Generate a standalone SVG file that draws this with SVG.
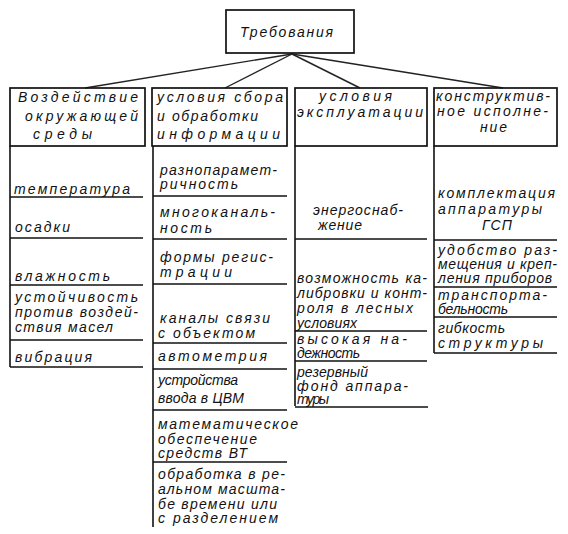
<svg xmlns="http://www.w3.org/2000/svg" width="568" height="534" viewBox="0 0 568 534">
<style>
.bg{fill:#fff}
.box{fill:none;stroke:#111;stroke-width:1.7}
.ln{stroke:#111;stroke-width:1.6;fill:none}
.cn{stroke:#222;stroke-width:1.4;fill:none}
text{font-family:"Liberation Sans","DejaVu Sans",sans-serif;font-style:italic;font-size:14px;fill:#111}
</style>
<rect class="bg" x="0" y="0" width="568" height="534"/>
<g id="connectors">
<line class="cn" x1="292" y1="54" x2="85" y2="88"/>
<line class="cn" x1="292" y1="54" x2="225" y2="88"/>
<line class="cn" x1="292" y1="54" x2="360" y2="88"/>
<line class="cn" x1="292" y1="54" x2="503" y2="88"/>
</g>
<g id="root">
<rect class="box" x="226" y="10" width="128" height="43"/>
<text x="240" y="37" textLength="93" lengthAdjust="spacing">Требования</text>
</g>
<g id="col1">
<rect class="box" x="10" y="88" width="135" height="58"/>
<text x="18" y="102" textLength="120" lengthAdjust="spacing">Воздействие</text>
<text x="25" y="121" textLength="113" lengthAdjust="spacing">окружающей</text>
<text x="33" y="139" textLength="59" lengthAdjust="spacing">среды</text>
<line class="ln" x1="10" y1="146" x2="10" y2="367"/>
</g>
<g id="c1-temp"><text x="14" y="194" textLength="116" lengthAdjust="spacing">температура</text><line class="ln" x1="10" y1="197" x2="143" y2="197"/></g>
<g id="c1-osadki"><text x="15" y="232" textLength="55" lengthAdjust="spacing">осадки</text><line class="ln" x1="10" y1="238" x2="143" y2="238"/></g>
<g id="c1-vlazh"><text x="15" y="281" textLength="95" lengthAdjust="spacing">влажность</text><line class="ln" x1="10" y1="285" x2="143" y2="285"/></g>
<g id="c1-ustoich">
<text x="15" y="302" textLength="123" lengthAdjust="spacing">устойчивость</text>
<text x="15" y="317" textLength="123" lengthAdjust="spacing">против воздей-</text>
<text x="15" y="332" textLength="98" lengthAdjust="spacing">ствия масел</text>
<line class="ln" x1="10" y1="340" x2="143" y2="340"/></g>
<g id="c1-vibr"><text x="15" y="362" textLength="77" lengthAdjust="spacing">вибрация</text><line class="ln" x1="10" y1="367" x2="143" y2="367"/></g>

<g id="col2">
<rect class="box" x="152" y="88" width="135" height="58"/>
<text x="157" y="102" textLength="126" lengthAdjust="spacing">условия сбора</text>
<text x="157" y="121" textLength="101" lengthAdjust="spacing">и обработки</text>
<text x="157" y="139" textLength="123" lengthAdjust="spacing">информации</text>
<line class="ln" x1="153" y1="146" x2="153" y2="527"/>
</g>
<g id="c2-razno"><text x="160" y="175" textLength="117" lengthAdjust="spacing">разнопарамет-</text><text x="160" y="189" textLength="78" lengthAdjust="spacing">ричность</text><line class="ln" x1="153" y1="196" x2="287" y2="196"/></g>
<g id="c2-mnogo"><text x="160" y="217" textLength="115" lengthAdjust="spacing">многоканаль-</text><text x="160" y="233" textLength="52" lengthAdjust="spacing">ность</text><line class="ln" x1="153" y1="239" x2="287" y2="239"/></g>
<g id="c2-formy"><text x="160" y="262" textLength="113" lengthAdjust="spacing">формы регис-</text><text x="160" y="277" textLength="72" lengthAdjust="spacing">трации</text><line class="ln" x1="153" y1="284" x2="287" y2="284"/></g>
<g id="c2-kanaly"><text x="160" y="323" textLength="110" lengthAdjust="spacing">каналы связи</text><text x="158" y="338" textLength="97" lengthAdjust="spacing">с объектом</text><line class="ln" x1="153" y1="343" x2="287" y2="343"/></g>
<g id="c2-avto"><text x="158" y="361" textLength="109" lengthAdjust="spacing">автометрия</text><line class="ln" x1="153" y1="369" x2="287" y2="369"/></g>
<g id="c2-ustr"><text x="158" y="385" textLength="80" lengthAdjust="spacing">устройства</text><text x="158" y="403" textLength="86" lengthAdjust="spacing">ввода в ЦВМ</text><line class="ln" x1="153" y1="410" x2="287" y2="410"/></g>
<g id="c2-mat"><text x="158" y="429" textLength="140" lengthAdjust="spacing">математическое</text><text x="158" y="444" textLength="99" lengthAdjust="spacing">обеспечение</text><text x="158" y="458" textLength="89" lengthAdjust="spacing">средств  ВТ</text><line class="ln" x1="153" y1="462" x2="287" y2="462"/></g>
<g id="c2-obr"><text x="158" y="479" textLength="127" lengthAdjust="spacing">обработка в ре-</text><text x="158" y="494" textLength="127" lengthAdjust="spacing">альном масшта-</text><text x="158" y="509" textLength="119" lengthAdjust="spacing">бе времени или</text><text x="158" y="523" textLength="120" lengthAdjust="spacing">с разделением</text></g>

<g id="col3">
<rect class="box" x="295" y="88" width="132" height="58"/>
<text x="319" y="101" textLength="73" lengthAdjust="spacing">условия</text>
<text x="297" y="117" textLength="126" lengthAdjust="spacing">эксплуатации</text>
<line class="ln" x1="295" y1="146" x2="295" y2="406"/>
</g>
<g id="c3-energo"><text x="313" y="215" textLength="90" lengthAdjust="spacing">энергоснаб-</text><text x="318" y="230" textLength="44" lengthAdjust="spacing">жение</text><line class="ln" x1="295" y1="239" x2="427" y2="239"/></g>
<g id="c3-kalib"><text x="297" y="283" textLength="130" lengthAdjust="spacing">возможность ка-</text><text x="297" y="298" textLength="130" lengthAdjust="spacing">либровки и конт-</text><text x="297" y="313" textLength="116" lengthAdjust="spacing">роля в лесных</text><text x="297" y="328" textLength="60" lengthAdjust="spacing">условиях</text><line class="ln" x1="295" y1="331" x2="427" y2="331"/></g>
<g id="c3-nadezh"><text x="297" y="344" textLength="110" lengthAdjust="spacing">высокая на-</text><text x="297" y="358" textLength="63" lengthAdjust="spacing">дежность</text><line class="ln" x1="295" y1="361" x2="427" y2="361"/></g>
<g id="c3-rezerv"><text x="297" y="377" textLength="71" lengthAdjust="spacing">резервный</text><text x="297" y="391" textLength="111" lengthAdjust="spacing">фонд аппара-</text><text x="297" y="404" textLength="32" lengthAdjust="spacing">туры</text><line class="ln" x1="295" y1="407" x2="428" y2="407"/></g>

<g id="col4">
<rect class="box" x="434" y="88" width="123" height="58"/>
<text x="436" y="101" textLength="114" lengthAdjust="spacing">конструктив-</text>
<text x="437" y="116" textLength="111" lengthAdjust="spacing">ное исполне-</text>
<text x="480" y="132" textLength="27" lengthAdjust="spacing">ние</text>
<line class="ln" x1="434" y1="146" x2="434" y2="353"/>
</g>
<g id="c4-kompl"><text x="438" y="198" textLength="117" lengthAdjust="spacing">комплектация</text><text x="438" y="214" textLength="104" lengthAdjust="spacing">аппаратуры</text><text x="482" y="230" textLength="30" lengthAdjust="spacing">ГСП</text><line class="ln" x1="434" y1="240" x2="557" y2="240"/></g>
<g id="c4-udob"><text x="438" y="255" textLength="119" lengthAdjust="spacing">удобство раз-</text><text x="438" y="269" textLength="119" lengthAdjust="spacing">мещения и креп-</text><text x="438" y="283" textLength="114" lengthAdjust="spacing">ления приборов</text><line class="ln" x1="434" y1="287" x2="557" y2="287"/></g>
<g id="c4-transp"><text x="438" y="300" textLength="109" lengthAdjust="spacing">транспорта-</text><text x="438" y="314" textLength="70" lengthAdjust="spacing">бельность</text><line class="ln" x1="434" y1="317" x2="557" y2="317"/></g>
<g id="c4-gibk"><text x="438" y="333" textLength="67" lengthAdjust="spacing">гибкость</text><text x="438" y="348" textLength="105" lengthAdjust="spacing">структуры</text><line class="ln" x1="434" y1="353" x2="557" y2="353"/></g>
</svg>
